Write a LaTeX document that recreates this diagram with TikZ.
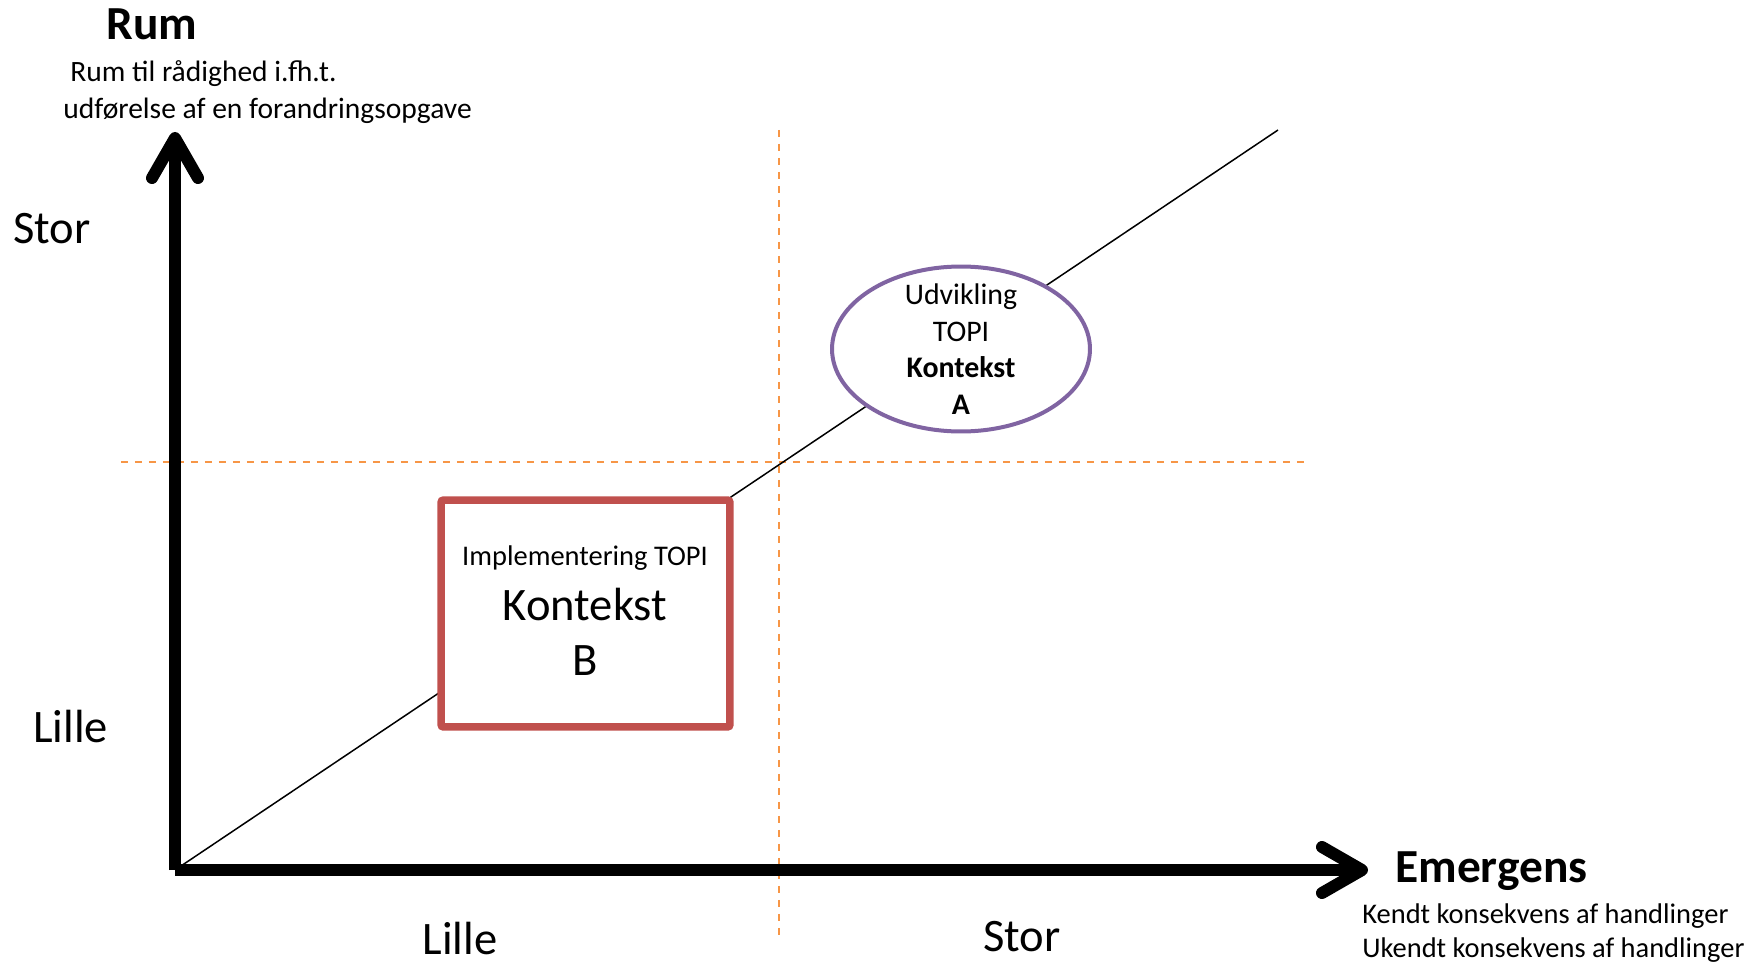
\documentclass[tikz,border=0pt]{standalone}
\usepackage{fontspec}
\setmainfont{Carlito}
\usetikzlibrary{arrows.meta,shapes.geometric}

\begin{document}
\begin{tikzpicture}[x=0.02cm,y=-0.02cm,
    axisarrow/.style={line width=0.24cm,-{Straight Barb[length=0.8cm,width=0.92cm,round]}},
    quadline/.style={draw=ctx_orange,line width=0.04cm,dash pattern=on 0.14cm off 0.14cm},
    txtsmall/.style={inner sep=0pt,font=\fontsize{16.2}{20.5}\selectfont},
    txtbig/.style={inner sep=0pt,font=\fontsize{26.5}{32}\selectfont},
    txthead/.style={inner sep=0pt,font=\fontsize{27}{32}\selectfont\bfseries}]
    \definecolor{ctx_orange}{RGB}{247,150,70}
    \definecolor{ctx_red}{RGB}{192,80,77}
    \definecolor{ctx_purple}{RGB}{128,100,162}
    \useasboundingbox (0,0) rectangle (1758,963);
    \coordinate (origin) at (175,870);
    \coordinate (ytip) at (175,132);
    \coordinate (xtip) at (1368,870);
    \coordinate (diagend) at (1278,130);
    \coordinate (vtop) at (779,130);
    \coordinate (vbot) at (779,936);
    \coordinate (hleft) at (121,462);
    \coordinate (hright) at (1306,462);
    % quadrant lines
    \draw[quadline] (vtop) -- (vbot);
    \draw[quadline] (hleft) -- (hright);
    \draw[line width=0.03cm] (origin) -- (diagend);
    % axes
    \draw[axisarrow] (origin) -- (ytip);
    \draw[axisarrow] (origin) -- (xtip);
    % contexts
    \node[shape=rectangle,draw=ctx_red,fill=white,line width=0.15cm,rounded corners=0.05cm,minimum width=5.78cm,minimum height=4.54cm] (ctxB) at (585.5,613.5) {};
    \node[txtsmall,anchor=base] (implB) at (585,565) {Implementering TOPI};
    \node[txtbig,anchor=base] (kontB) at (585,620) {Kontekst};
    \node[txtbig,anchor=base] (letB) at (585,675) {B};
    \node[shape=ellipse,draw=ctx_purple,fill=white,line width=0.08cm,minimum width=5.16cm,minimum height=3.3cm,inner sep=0pt] (ctxA) at (961,349) {};
    \node[inner sep=0pt,align=center,font=\fontsize{17}{20.8}\selectfont] (ctxAtxt) at (ctxA) {Udvikling\\TOPI\\\textbf{Kontekst}\\\textbf{A}};
    % axis labels
    \node[txthead,anchor=base] (rum) at (152,40) {Rum};
    \node[txtsmall,anchor=base west,font=\fontsize{16.8}{20.5}\selectfont] (rumA) at (70,82) {Rum til rådighed i.fh.t.};
    \node[txtsmall,anchor=base west,font=\fontsize{16.8}{20.5}\selectfont] (rumB) at (63,118) {udførelse af en forandringsopgave};
    \node[txtbig,anchor=base west] (storY) at (13,243) {Stor};
    \node[txtbig,anchor=base west] (lilleY) at (33,742) {Lille};
    \node[txtbig,anchor=base] (lilleX) at (460,954) {Lille};
    \node[txtbig,anchor=base] (storX) at (1022,951) {Stor};
    \node[txthead,anchor=base west] (emerg) at (1395,882) {Emergens};
    \node[txtsmall,anchor=base west] (kendt) at (1362,923) {Kendt konsekvens af handlinger};
    \node[txtsmall,anchor=base west] (ukendt) at (1362,957) {Ukendt konsekvens af handlinger};
\end{tikzpicture}
\end{document}
